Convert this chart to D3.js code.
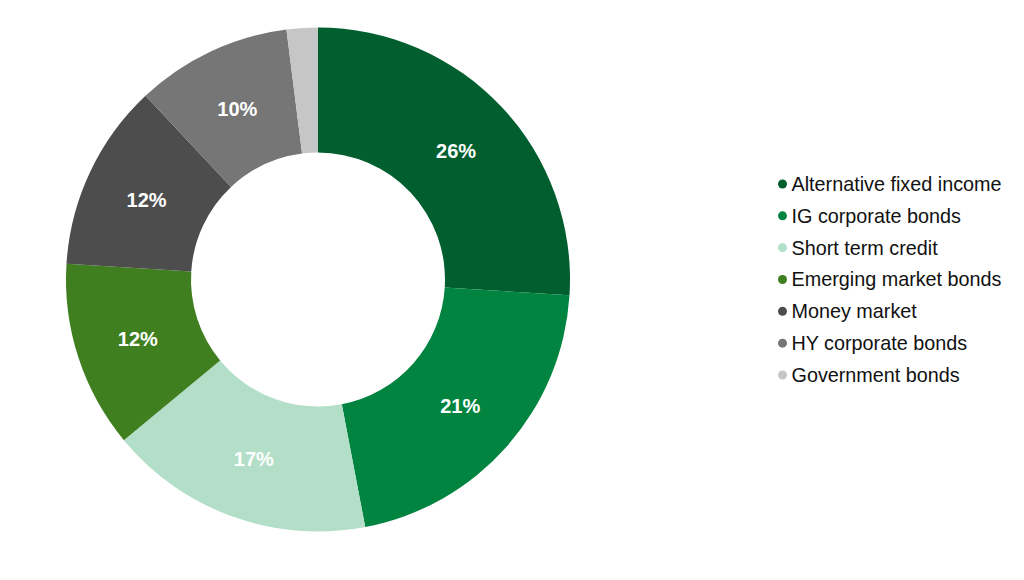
<!DOCTYPE html>
<html>
<head>
<meta charset="utf-8">
<script src="https://cdn.jsdelivr.net/npm/d3@7"></script>
<style>
  body { margin: 0; background: #fff; }
  svg { display: block; font-family: "Liberation Sans", Arial, sans-serif; }
</style>
</head>
<body>
<svg id="chart" width="1024" height="580"></svg>
<script>
// Allocation shares (percent)
const categories = [
  "Alternative fixed income",
  "IG corporate bonds",
  "Short term credit",
  "Emerging market bonds",
  "Money market",
  "HY corporate bonds",
  "Government bonds"
];
const shares = [26, 21, 17, 12, 12, 10, 2];
const colors = ["#005E2F", "#00843F", "#B3DEC8", "#3F7F1F", "#4D4D4D", "#767676", "#C6C6C6"];

const svg = d3.select("#chart");
const cx = 318, cy = 279.5;
const outerR = 252, innerR = 127;

const data = categories.map((c, i) => ({ name: c, value: shares[i], color: colors[i] }));

let pie = d3.pie().sort(null).value(d => d.value);
let arc = d3.arc().innerRadius(innerR).outerRadius(outerR);

let g = svg.append("g").attr("transform", "translate(" + cx + "," + cy + ")");

let arcs = pie(data);

g.selectAll("path")
  .data(arcs)
  .join("path")
  .attr("d", arc)
  .attr("fill", d => d.data.color);

// Labels for slices large enough to carry one
g.selectAll("text")
  .data(arcs.filter(d => d.data.value >= 5))
  .join("text")
  .attr("transform", d => "translate(" + arc.centroid(d) + ")")
  .attr("text-anchor", "middle")
  .attr("dy", "0.4em")
  .attr("fill", "#fff")
  .attr("font-weight", "bold")
  .attr("font-size", 20)
  .text(d => d.data.value + "%");

// Legend
let legendY = d3.scalePoint().domain(categories).range([184, 375]);

let legend = svg.append("g");
let items = legend.selectAll("g")
  .data(data)
  .join("g")
  .attr("transform", d => "translate(782.5," + legendY(d.name) + ")");

items.append("circle")
  .attr("r", 4.5)
  .attr("fill", d => d.color);

items.append("text")
  .attr("x", 9)
  .attr("dy", "0.35em")
  .attr("font-size", 19.8)
  .attr("fill", "#111")
  .text(d => d.name);
</script>
</body>
</html>
